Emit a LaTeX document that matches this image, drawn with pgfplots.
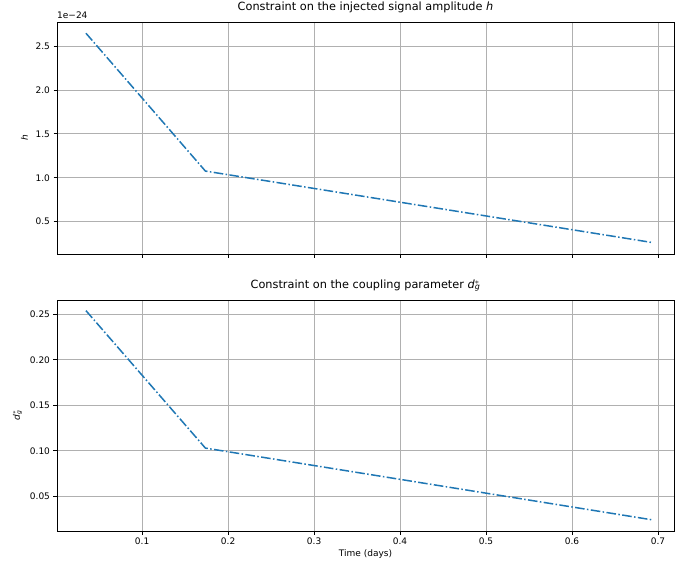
\documentclass[border=0pt]{standalone}
\usepackage{pgfplots}
\pgfplotsset{compat=1.18}
\usepackage{fontspec}
\setmainfont{DejaVu Sans}
\definecolor{mplblue}{HTML}{1F77B4}
\definecolor{gridgray}{HTML}{B0B0B0}
\pgfplotstableread{
x y
0.0347 2.645
0.1736 1.076
0.6944 0.261
}\hdata
\pgfplotstableread{
x y
0.0347 0.254
0.1736 0.103
0.6944 0.024
}\ddata
\pgfplotsset{
  myaxis/.style={
    scale only axis,
    width=617pt,
    xmin=0.001, xmax=0.7186,
    xtick={0.1,0.2,0.3,0.4,0.5,0.6,0.7},
    tick align=outside,
    xtick pos=bottom, ytick pos=left,
    major tick length=3.5pt,
    tick style={black, line width=0.8pt},
    axis line style={line width=0.8pt},
    grid=major,
    major grid style={gridgray, line width=0.8pt},
    /pgf/number format/assume math mode=true,
    tick label style={font=\fontsize{9}{11}\selectfont},
    label style={font=\fontsize{9}{11}\selectfont},
    title style={font=\fontsize{11.3}{13}\selectfont, at={(rel axis cs:0.5,1)}, anchor=base, yshift=6pt},
    xticklabel style={/pgf/number format/fixed, /pgf/number format/precision=1},
    ylabel style={yshift=1pt},
  },
  myline/.style={mplblue, line width=1.5pt, dash pattern=on 9.6pt off 2.4pt on 1.5pt off 2.4pt, mark=none},
}
\begin{document}
\begin{tikzpicture}
\begin{axis}[myaxis,
  name=top,
  at={(57pt,-254pt)}, anchor=south west,
  height=232pt,
  ymin=0.132, ymax=2.773,
  ytick={0.5,1.0,1.5,2.0,2.5},
  yticklabel style={/pgf/number format/fixed, /pgf/number format/fixed zerofill, /pgf/number format/precision=1},
  xticklabels={},
  title={Constraint on the injected signal amplitude \textit{h}},
  ylabel={\textit{h}},
]
\addplot[myline] table[x=x,y=y] {\hdata};
\end{axis}
\node[anchor=base west, font=\fontsize{9}{11}\selectfont, inner sep=0pt] at ([yshift=4pt]top.north west) {1e−24};
\begin{axis}[myaxis,
  at={(57pt,-531pt)}, anchor=south west,
  height=231pt,
  ymin=0.0119, ymax=0.2657,
  ytick={0.05,0.10,0.15,0.20,0.25},
  yticklabel style={/pgf/number format/fixed, /pgf/number format/fixed zerofill, /pgf/number format/precision=2},
  title={Constraint on the coupling parameter \textit{d}\rlap{$^{*}$}\textsubscript{\textit{g}}},
  ylabel={\textit{d}\rlap{$^{*}$}\textsubscript{\textit{g}}},
  xlabel={Time (days)},
  xlabel style={yshift=2pt},
]
\addplot[myline] table[x=x,y=y] {\ddata};
\end{axis}
\pgfresetboundingbox
\path[use as bounding box] (0,0) rectangle (675pt,-566pt);
\end{tikzpicture}
\end{document}
